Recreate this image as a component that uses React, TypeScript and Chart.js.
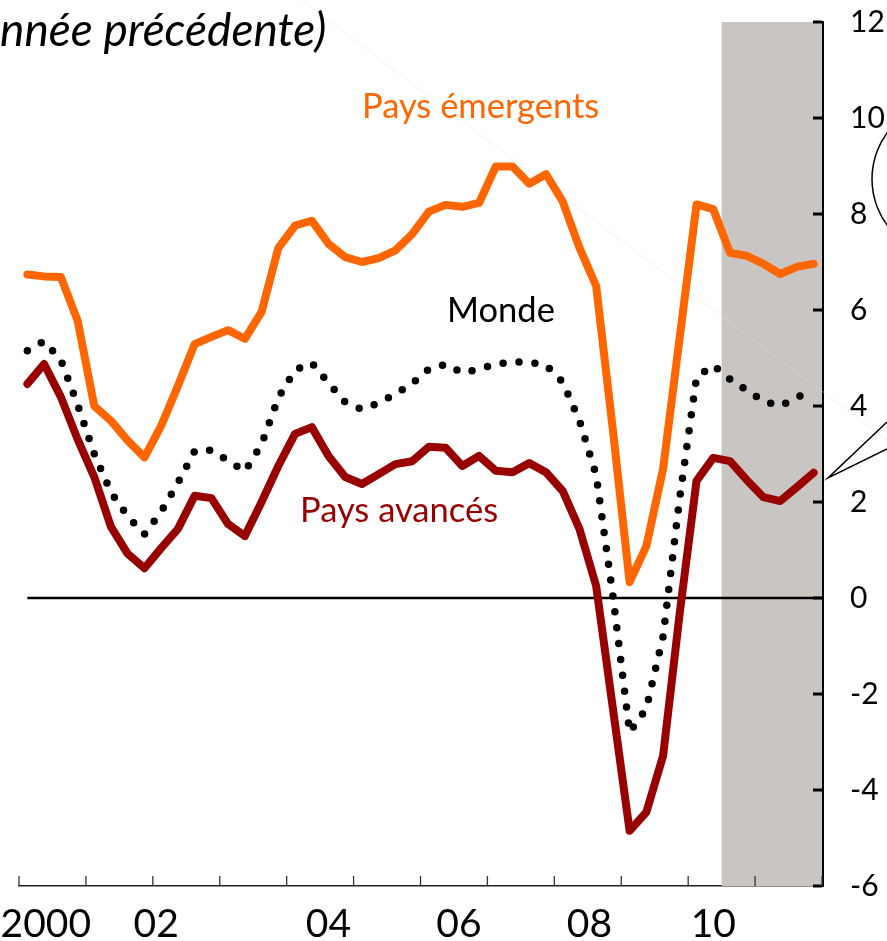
import React, { useEffect, useRef } from 'react';
import { Chart, registerables } from 'chart.js';

Chart.register(...registerables);

// Quarterly growth (% vs year earlier), 2000T1 .. 2011T4
const years = ['2000', '2001', '2002', '2003', '2004', '2005', '2006', '2007', '2008', '2009', '2010', '2011'];
const quarters: string[] = [];
years.forEach((y) => ['T1', 'T2', 'T3', 'T4'].forEach((q) => quarters.push(y + q)));

const emergents = [
  6.74, 6.7, 6.69, 5.78, 4.0, 3.69, 3.28, 2.93, 3.59, 4.42, 5.29, 5.44,
  5.58, 5.4, 5.96, 7.29, 7.76, 7.86, 7.38, 7.1, 7.0, 7.08, 7.24, 7.58,
  8.05, 8.19, 8.15, 8.23, 8.99, 8.99, 8.63, 8.83, 8.26, 7.3, 6.5, 3.5,
  0.33, 1.08, 2.69, 5.45, 8.2, 8.1, 7.19, 7.13, 6.96, 6.75, 6.9, 6.96,
];
const avances = [
  4.46, 4.875, 4.19, 3.31, 2.52, 1.48, 0.92, 0.62, 1.04, 1.44, 2.13, 2.08,
  1.54, 1.29, 2.0, 2.75, 3.42, 3.56, 2.96, 2.52, 2.375, 2.58, 2.79, 2.85,
  3.15, 3.13, 2.75, 2.96, 2.65, 2.62, 2.81, 2.62, 2.23, 1.44, 0.25, -2.3,
  -4.85, -4.46, -3.29, -0.3, 2.44, 2.92, 2.85, 2.46, 2.1, 2.02, 2.31, 2.61,
];
const monde = [
  5.15, 5.35, 4.96, 4.03, 3.0, 2.2, 1.7, 1.33, 1.8, 2.4, 3.06, 3.08,
  2.86, 2.64, 3.2, 4.17, 4.75, 4.9, 4.48, 4.08, 3.93, 4.06, 4.25, 4.47,
  4.77, 4.87, 4.69, 4.77, 4.87, 4.92, 4.91, 4.85, 4.5, 3.7, 2.56, 0.05,
  -2.8, -2.3, -0.8, 2.1, 4.6, 4.85, 4.56, 4.33, 4.1, 4.0, 4.17, 4.375,
];

const yMin = -6;
const yMax = 12;
const yStep = 2;
const xTickLabels = ['2000', '02', '04', '06', '08', '10'];
const xTickLabelPos = [1.1, 7.7, 18, 25.8, 33.6, 41];
const yearBoundaries = [-0.5, 3.5, 7.5, 11.5, 15.5, 19.5, 23.5, 27.5, 31.5, 35.5, 39.5, 43.5, 47.5];
const shadeStart = 41.5; // projections from 2010T3

const titleText = 'nnée précédente)';
const seriesLabels = ['Pays émergents', 'Monde', 'Pays avancés'];

const toXY = (arr: number[]) => arr.map((v, i) => ({ x: i, y: v }));

const overlay = {
  id: 'overlay',
  beforeDatasetsDraw(chart: any) {
    const { ctx, chartArea } = chart;
    const { top, bottom, right } = chartArea;
    const xs = chart.scales.x;
    const ys = chart.scales.y;
    ctx.save();
    const sx = xs.getPixelForValue(shadeStart);
    ctx.fillStyle = '#C9C5C2';
    ctx.fillRect(sx, top, right - sx, bottom - top);
    // faint diagonal line
    ctx.strokeStyle = 'rgba(225,225,225,0.45)';
    ctx.lineWidth = 1;
    ctx.beginPath();
    ctx.moveTo(301, 0);
    ctx.lineTo(887, 440);
    ctx.stroke();
    // zero line
    const y0 = ys.getPixelForValue(0);
    ctx.strokeStyle = '#000';
    ctx.lineWidth = 2.5;
    ctx.beginPath();
    ctx.moveTo(xs.getPixelForValue(0), y0);
    ctx.lineTo(right, y0);
    ctx.stroke();
    ctx.restore();
  },
  afterDatasetsDraw(chart: any) {
    const { ctx, chartArea } = chart;
    const { bottom, right } = chartArea;
    const xs = chart.scales.x;
    const ys = chart.scales.y;
    ctx.save();
    // y ticks (inward)
    ctx.strokeStyle = '#000';
    ctx.lineWidth = 3;
    for (let v = yMin; v <= yMax; v += yStep) {
      const py = ys.getPixelForValue(v);
      ctx.beginPath();
      ctx.moveTo(right - 9, py);
      ctx.lineTo(right, py);
      ctx.stroke();
    }
    // x ticks (inward)
    ctx.strokeStyle = '#333';
    ctx.lineWidth = 1.3;
    yearBoundaries.forEach((b) => {
      const px = xs.getPixelForValue(b);
      ctx.beginPath();
      ctx.moveTo(px, bottom - 10);
      ctx.lineTo(px, bottom);
      ctx.stroke();
    });
    // x labels
    ctx.fillStyle = '#000';
    ctx.font = '39px Lato';
    ctx.textAlign = 'center';
    ctx.textBaseline = 'alphabetic';
    xTickLabels.forEach((t, i) => {
      ctx.fillText(t, xs.getPixelForValue(xTickLabelPos[i]), 937);
    });
    // title (cropped)
    ctx.font = 'italic 46px Lato';
    ctx.textAlign = 'left';
    ctx.fillText(titleText, 0, 46);
    // series labels
    ctx.font = '34.5px Lato';
    ctx.fillStyle = '#FF6600';
    ctx.fillText(seriesLabels[0], 362, 118);
    ctx.fillStyle = '#000';
    ctx.fillText(seriesLabels[1], 447, 322);
    ctx.fillStyle = '#990000';
    ctx.fillText(seriesLabels[2], 300, 522);
    // annotation shapes on right
    ctx.strokeStyle = '#000';
    ctx.lineWidth = 1.5;
    ctx.beginPath();
    ctx.arc(950, 179, 78, 0, Math.PI * 2);
    ctx.stroke();
    ctx.beginPath();
    ctx.moveTo(887, 422);
    ctx.lineTo(828, 478);
    ctx.lineTo(887, 449);
    ctx.stroke();
    ctx.restore();
  },
};

export default function App() {
  const ref = useRef<HTMLCanvasElement | null>(null);
  useEffect(() => {
    if (!ref.current) return;
    const chart = new Chart(ref.current, {
      type: 'line',
      data: {
        labels: quarters,
        datasets: [
          {
            label: seriesLabels[0],
            data: toXY(emergents),
            borderColor: '#FF6600',
            borderWidth: 8,
            pointRadius: 0,
            borderJoinStyle: 'round',
            borderCapStyle: 'round',
            tension: 0,
          },
          {
            label: seriesLabels[2],
            data: toXY(avances),
            borderColor: '#990000',
            borderWidth: 8,
            pointRadius: 0,
            borderJoinStyle: 'round',
            borderCapStyle: 'round',
            tension: 0,
          },
          {
            label: seriesLabels[1],
            data: toXY(monde),
            borderColor: '#000000',
            borderWidth: 7.5,
            borderDash: [0, 16],
            borderCapStyle: 'round',
            borderJoinStyle: 'round',
            pointRadius: 0,
            tension: 0,
          },
        ],
      },
      options: {
        responsive: false,
        animation: false,
        layout: { padding: { left: 19, top: 22, right: 0, bottom: 0 } },
        plugins: { legend: { display: false }, tooltip: { enabled: false } },
        scales: {
          x: {
            type: 'linear',
            min: -0.5,
            max: 47.5,
            ticks: { display: false },
            grid: { display: false, drawTicks: false },
            border: { display: true, color: '#222', width: 1.5 },
            afterFit: (s: any) => {
              s.height = 55;
              s.paddingLeft = 0;
              s.paddingRight = 0;
            },
          },
          y: {
            position: 'right',
            min: yMin,
            max: yMax,
            ticks: { stepSize: yStep, color: '#000', font: { family: 'Lato', size: 30 }, padding: 28 },
            grid: { display: false, drawTicks: false },
            border: { display: true, color: '#000', width: 3 },
            afterFit: (s: any) => {
              s.width = 65;
              s.paddingTop = 0;
              s.paddingBottom = 0;
            },
          },
        },
      } as any,
      plugins: [overlay],
    });
    return () => chart.destroy();
  }, []);
  return (
    <canvas
      ref={ref}
      width={887}
      height={941}
      style={{ position: 'absolute', left: 0, top: 0, width: 887, height: 941, display: 'block' }}
    />
  );
}
